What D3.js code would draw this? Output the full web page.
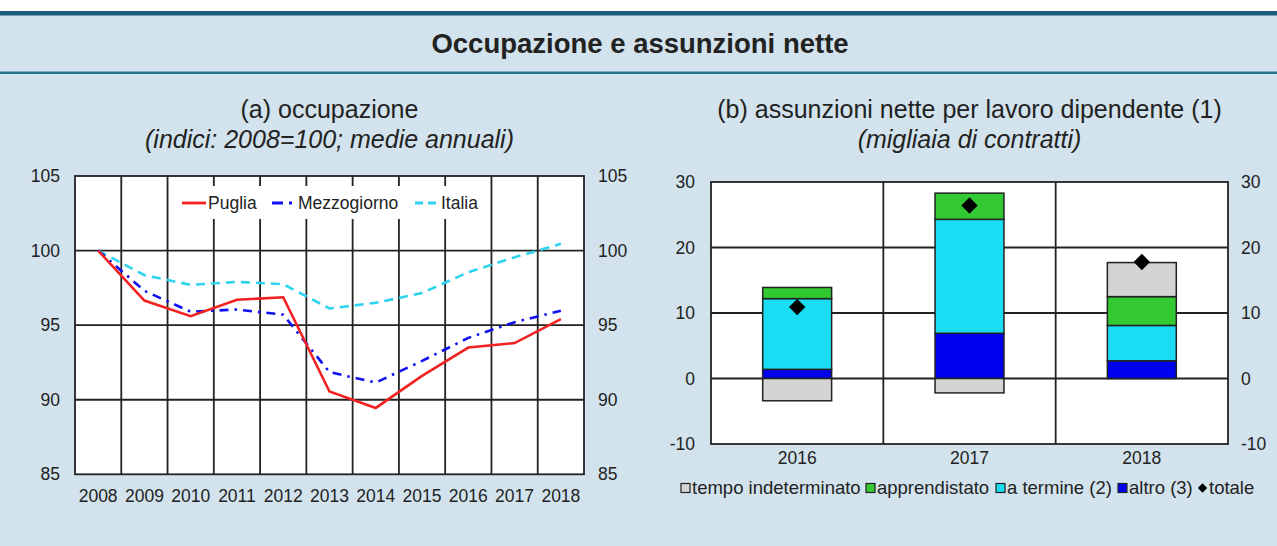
<!DOCTYPE html>
<head>
  <meta charset="utf-8">
  <script src="https://d3js.org/d3.v7.min.js"></script>
  <style>
    body { margin: 0; background: #fff; }
    svg { display: block; font-family: "Liberation Sans", Arial, sans-serif; }
    .tick text { fill: #222; }
  </style>
</head>

<body>
  <svg width="1277" height="546"></svg>

  <script>
    // panel (a): occupazione, indici 2008=100
    const years = ['2008', '2009', '2010', '2011', '2012', '2013', '2014', '2015', '2016', '2017', '2018'];
    const puglia = [100, 96.65, 95.6, 96.7, 96.87, 90.55, 89.45, 91.6, 93.5, 93.8, 95.4];
    const mezzogiorno = [100, 97.3, 95.9, 96.05, 95.7, 91.85, 91.15, 92.6, 94.15, 95.2, 95.97];
    const italia = [100, 98.35, 97.7, 97.9, 97.75, 96.12, 96.5, 97.15, 98.55, 99.55, 100.45];
    const ticksA = [85, 90, 95, 100, 105];

    // panel (b): assunzioni nette, migliaia di contratti
    const yearsB = ['2016', '2017', '2018'];
    const indeterminato = [-3.4, -2.2, 5.2];
    const apprendistato = [1.7, 4.0, 4.4];
    const termine = [10.8, 17.4, 5.4];
    const altro = [1.4, 6.9, 2.7];
    const totale = [10.9, 26.4, 17.8];
    const ticksB = [-10, 0, 10, 20, 30];

    const svg = d3.select('svg');
    const ink = '#222';
    const plain = d => String(d); // hyphen minus, like the original

    /*****************************************************
    ** background and header
    ******************************************************/
    svg.append('rect').attr('x', 0).attr('y', 14).attr('width', 1277).attr('height', 532).attr('fill', '#d2e3ed');
    svg.append('rect').attr('x', 0).attr('y', 11).attr('width', 1277).attr('height', 4.5).attr('fill', '#1d5c7c');
    svg.append('rect').attr('x', 0).attr('y', 71.5).attr('width', 1277).attr('height', 2.5).attr('fill', '#2b7594');

    svg.append('text')
      .attr('x', 640).attr('y', 53)
      .attr('text-anchor', 'middle')
      .attr('font-size', 27.5).attr('font-weight', 'bold').attr('fill', ink)
      .text('Occupazione e assunzioni nette');

    function subtitle(cx, main, sub) {
      svg.append('text').attr('x', cx).attr('y', 118).attr('text-anchor', 'middle')
        .attr('font-size', 25).attr('fill', ink).text(main);
      svg.append('text').attr('x', cx).attr('y', 148).attr('text-anchor', 'middle')
        .attr('font-size', 25).attr('font-style', 'italic').attr('fill', ink).text(sub);
    }

    /*****************************************************
    ** panel (a)
    ******************************************************/
    const a = { left: 75, right: 584, top: 176, bottom: 474.3 };
    const xA = d3.scaleBand().domain(years).range([a.left, a.right]);
    const yA = d3.scaleLinear().domain([85, 105]).range([a.bottom, a.top]);

    subtitle((a.left + a.right) / 2, '(a) occupazione', '(indici: 2008=100; medie annuali)');

    const gA = svg.append('g');
    gA.append('rect')
      .attr('x', a.left).attr('y', a.top)
      .attr('width', a.right - a.left).attr('height', a.bottom - a.top)
      .attr('fill', '#fff');

    // grid
    gA.selectAll('.vgrid').data(years.slice(1)).enter().append('line')
      .attr('x1', d => xA(d)).attr('x2', d => xA(d))
      .attr('y1', a.top).attr('y2', a.bottom)
      .attr('stroke', ink).attr('stroke-width', 1.8);
    gA.selectAll('.hgrid').data([90, 95, 100]).enter().append('line')
      .attr('x1', a.left).attr('x2', a.right)
      .attr('y1', d => yA(d)).attr('y2', d => yA(d))
      .attr('stroke', ink).attr('stroke-width', 1.8);

    // legend box covers the grid
    gA.append('rect').attr('x', 177).attr('y', 186).attr('width', 306).attr('height', 33).attr('fill', '#fff');

    gA.append('rect')
      .attr('x', a.left).attr('y', a.top)
      .attr('width', a.right - a.left).attr('height', a.bottom - a.top)
      .attr('fill', 'none').attr('stroke', ink).attr('stroke-width', 1.8);

    const seriesA = [
      { name: 'Puglia', values: puglia, color: '#f22222', dash: null, lx: 182 },
      { name: 'Mezzogiorno', values: mezzogiorno, color: '#1010f0', dash: '9,6,2.5,6', lx: 272 },
      { name: 'Italia', values: italia, color: '#2ed3f0', dash: '9,6', lx: 415 },
    ];

    const line = d3.line()
      .x((d, i) => xA(years[i]) + xA.bandwidth() / 2)
      .y(d => yA(d));

    // draw Italia first so Puglia sits on top
    seriesA.slice().reverse().forEach(s => {
      gA.append('path')
        .attr('d', line(s.values))
        .attr('fill', 'none')
        .attr('stroke', s.color)
        .attr('stroke-width', 2.6)
        .attr('stroke-dasharray', s.dash);
    });

    seriesA.forEach(s => {
      gA.append('line')
        .attr('x1', s.lx).attr('x2', s.lx + 24)
        .attr('y1', 203).attr('y2', 203)
        .attr('stroke', s.color).attr('stroke-width', 2.8)
        .attr('stroke-dasharray', s.name === 'Mezzogiorno' ? '11,6,3,6' : s.dash ? '8,5' : null);
      gA.append('text')
        .attr('x', s.lx + 26).attr('y', 209)
        .attr('font-size', 17.5).attr('fill', ink)
        .text(s.name);
    });

    // axes
    const axisA = g => g.call(s => s.select('.domain').remove())
      .call(s => s.selectAll('.tick text').attr('font-size', 17.5));
    svg.append('g').attr('transform', `translate(${a.left - 15},0)`)
      .call(d3.axisLeft(yA).tickValues(ticksA).tickFormat(plain).tickSize(0).tickPadding(0))
      .call(axisA);
    svg.append('g').attr('transform', `translate(${a.right + 14},0)`)
      .call(d3.axisRight(yA).tickValues(ticksA).tickFormat(plain).tickSize(0).tickPadding(0))
      .call(axisA);
    svg.append('g').attr('transform', `translate(0,${a.bottom + 15})`)
      .call(d3.axisBottom(xA).tickSize(0).tickPadding(0))
      .call(axisA);

    /*****************************************************
    ** panel (b)
    ******************************************************/
    const b = { left: 711, right: 1228, top: 182, bottom: 444 };
    const xB = d3.scaleBand().domain(yearsB).range([b.left, b.right]);
    const xBar = d3.scaleBand().domain(yearsB).range([b.left, b.right]).paddingInner(0.6).paddingOuter(0.3);
    const yB = d3.scaleLinear().domain([-10, 30]).range([b.bottom, b.top]);

    subtitle((b.left + b.right) / 2, '(b) assunzioni nette per lavoro dipendente (1)', '(migliaia di contratti)');

    const gB = svg.append('g');
    gB.append('rect')
      .attr('x', b.left).attr('y', b.top)
      .attr('width', b.right - b.left).attr('height', b.bottom - b.top)
      .attr('fill', '#fff').attr('stroke', ink).attr('stroke-width', 1.8);
    gB.selectAll('.vgrid').data(yearsB.slice(1)).enter().append('line')
      .attr('x1', d => xB(d)).attr('x2', d => xB(d))
      .attr('y1', b.top).attr('y2', b.bottom)
      .attr('stroke', ink).attr('stroke-width', 1.8);
    gB.selectAll('.hgrid').data([0, 10, 20]).enter().append('line')
      .attr('x1', b.left).attr('x2', b.right)
      .attr('y1', d => yB(d)).attr('y2', d => yB(d))
      .attr('stroke', ink).attr('stroke-width', 1.8);

    const keys = ['altro', 'termine', 'apprendistato', 'indeterminato'];
    const colors = {
      indeterminato: '#d4d4d4',
      apprendistato: '#33c933',
      termine: '#1adcf2',
      altro: '#0000f0',
    };
    const tableB = yearsB.map((y, i) => ({
      year: y,
      altro: altro[i],
      termine: termine[i],
      apprendistato: apprendistato[i],
      indeterminato: indeterminato[i],
      totale: totale[i],
    }));

    const stacked = d3.stack().keys(keys).offset(d3.stackOffsetDiverging)(tableB);

    gB.selectAll('.layer').data(stacked).enter().append('g')
      .attr('fill', d => colors[d.key])
      .selectAll('rect').data(d => d).enter().append('rect')
      .attr('x', d => xBar(d.data.year))
      .attr('width', xBar.bandwidth())
      .attr('y', d => yB(Math.max(d[0], d[1])))
      .attr('height', d => Math.abs(yB(d[0]) - yB(d[1])))
      .attr('stroke', ink).attr('stroke-width', 1.5);

    gB.selectAll('.tot').data(tableB).enter().append('path')
      .attr('d', d3.symbol(d3.symbolSquare, 135))
      .attr('transform', d => `translate(${xB(d.year) + xB.bandwidth() / 2},${yB(d.totale)}) rotate(45)`)
      .attr('fill', '#000');

    const axisB = g => g.call(s => s.select('.domain').remove())
      .call(s => s.selectAll('.tick text').attr('font-size', 17.5));
    svg.append('g').attr('transform', `translate(${b.left - 16},0)`)
      .call(d3.axisLeft(yB).tickValues(ticksB).tickFormat(plain).tickSize(0).tickPadding(0))
      .call(axisB);
    svg.append('g').attr('transform', `translate(${b.right + 13},0)`)
      .call(d3.axisRight(yB).tickValues(ticksB).tickFormat(plain).tickSize(0).tickPadding(0))
      .call(axisB);
    svg.append('g').attr('transform', `translate(0,${b.bottom + 8})`)
      .call(d3.axisBottom(xB).tickSize(0).tickPadding(0))
      .call(axisB);

    // legend for panel (b)
    const legendB = [
      { label: 'tempo indeterminato', key: 'indeterminato', x: 681 },
      { label: 'apprendistato', key: 'apprendistato', x: 866 },
      { label: 'a termine (2)', key: 'termine', x: 996 },
      { label: 'altro (3)', key: 'altro', x: 1118 },
      { label: 'totale', key: 'totale', x: 1198 },
    ];
    const lg = svg.append('g');
    legendB.forEach(l => {
      if (l.key === 'totale') {
        lg.append('path')
          .attr('d', d3.symbol(d3.symbolSquare, 44))
          .attr('transform', `translate(${l.x + 4.5},488) rotate(45)`)
          .attr('fill', '#000');
      } else {
        lg.append('rect')
          .attr('x', l.x).attr('y', 483.5).attr('width', 9).attr('height', 9)
          .attr('fill', colors[l.key]).attr('stroke', ink).attr('stroke-width', 1.2);
      }
      lg.append('text')
        .attr('x', l.x + 11).attr('y', 494)
        .attr('font-size', 18.5).attr('fill', ink)
        .text(l.label);
    });
  </script>
</body>
